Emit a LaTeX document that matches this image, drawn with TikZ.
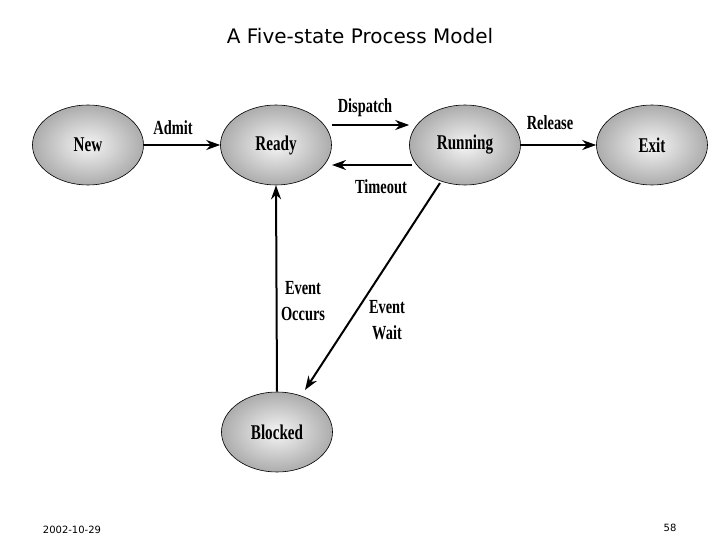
\documentclass[tikz,border=0pt]{standalone}
\usepackage{fontspec}
\setmainfont{Liberation Serif}
\newfontfamily\titlefont{DejaVu Sans}
\usetikzlibrary{arrows.meta,shapes.geometric}
\begin{document}
\begin{tikzpicture}[x=1pt,y=-1pt,
  st/.style={ellipse,draw=black,line width=0.6pt,minimum width=111pt,minimum height=80pt,
    inner color=gray!8,outer color=gray!65,font=\bfseries\fontsize{21}{21}\selectfont},
  lab/.style={font=\bfseries\fontsize{20}{26}\selectfont,align=center,inner sep=1pt},
  arr/.style={-{Stealth[length=14pt,width=10pt]},line width=2pt}]
\useasboundingbox (0,0) rectangle (720,540);
\fill[white] (0,0) rectangle (720,540);
\node[font=\titlefont\fontsize{20}{20}\selectfont] (title) at (360,36) {A Five-state Process Model};
\node[st] (new) at (88,145) {\scalebox{0.72}[1]{New}};
\node[st] (ready) at (276,145) {\scalebox{0.72}[1]{Ready}};
\node[st] (run) at (465,145) {\scalebox{0.72}[1]{Running}};
\node[st] (exit) at (652,145) {\scalebox{0.72}[1]{Exit}};
\node[st] (blk) at (277,432) {\scalebox{0.72}[1]{Blocked}};
\draw[arr] (new.east) -- (ready.west);
\node[lab] (admit) at (173,128) {\scalebox{0.72}[1]{Admit}};
\draw[arr] (ready.east |- 0,125) -- (run.west |- 0,125);
\node[lab] (disp) at (365,108) {\scalebox{0.72}[1]{Dispatch}};
\draw[arr] (412,165) -- (332,165);
\node[lab] (tmo) at (381,187) {\scalebox{0.72}[1]{Timeout}};
\draw[arr] (run.east) -- (exit.west);
\node[lab] (rel) at (550,123) {\scalebox{0.72}[1]{Release}};
\draw[arr] (blk.north) -- (ready.south);
\node[lab] (eo) at (303,301) {\scalebox{0.72}[1]{Event}\\\scalebox{0.72}[1]{Occurs}};
\draw[arr] (440,183) -- (305,390);
\node[lab] (ew) at (387,320) {\scalebox{0.72}[1]{Event}\\\scalebox{0.72}[1]{Wait}};
\node[font=\titlefont\fontsize{10}{10}\selectfont] (date) at (72,530) {2002-10-29};
\node[font=\titlefont\fontsize{10}{10}\selectfont] (pg) at (670,528) {58};
\end{tikzpicture}
\end{document}
